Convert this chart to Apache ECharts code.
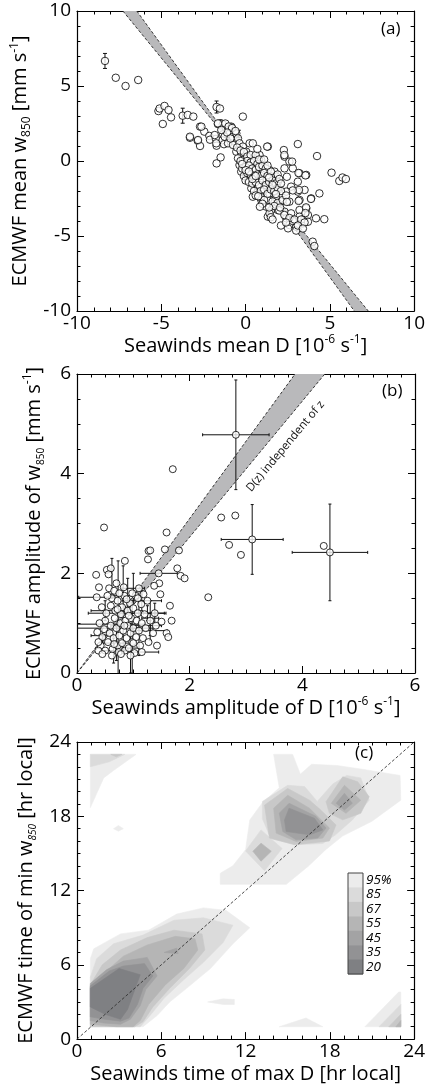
<!DOCTYPE html>
<html><head><meta charset="utf-8">
<script src="https://cdn.jsdelivr.net/npm/echarts@6/dist/echarts.min.js"></script>
<style>html,body{margin:0;padding:0;background:#fff}#c{width:428px;height:1087px}</style>
</head><body><div id="c"></div>
<script>
// ---------- Panel (a) ----------
const aRange = [-10, 10], aStep = 5;
const aPoints = [
[-8.34,6.67],[-7.7,5.55],[-7.12,5.0],[-6.37,5.4],
[-5.17,3.33],[-5.1,3.5],[-4.81,3.67],[-4.57,3.4],[-4.42,2.91],[-4.91,2.47],
[-3.73,3.02],[-3.43,3.07],[-3.1,2.96],
[-2.7,2.29],[-2.45,1.96],[-3.3,1.55],[-2.84,1.35],[-2.7,1.0],[-2.15,1.67],[-2.11,1.42],[-1.76,1.47],[-1.72,1.02],
[-1.72,3.6],[-1.52,3.5],[-1.48,0.24],[-1.72,-0.16],[-1.64,2.46],[-1.35,2.44],[-1.33,1.78],[-1.37,1.38],[-1.28,1.12],
[-0.16,2.96],
[-1.14,2.18],[-0.85,2.29],[-0.94,1.84],[-1.24,1.62],[-0.75,1.62],[-0.55,1.84],[-0.45,1.51],[-1.04,1.18],[-0.75,1.07],[-0.36,1.18],[-0.16,0.96],[0.24,1.18],[0.43,1.18],
[-0.55,0.62],[-0.26,0.51],[0.04,0.62],[-0.45,0.18],[-0.16,0.07],[0.14,0.18],[0.43,0.07],[0.83,0.4],[1.32,0.96],
[-0.36,-0.27],[-0.06,-0.38],[0.24,-0.16],[0.63,-0.27],[0.93,0.07],[1.13,-0.27],
[-0.26,-0.71],[0.04,-0.93],[0.34,-0.6],[0.63,-0.82],[1.03,-0.71],[1.42,-0.6],[1.72,-0.71],[1.82,-1.04],[1.52,-1.04],[1.22,-1.16],[0.83,-1.27],[0.43,-1.38],[0.14,-1.27],
[0.34,-1.82],[0.73,-1.71],[1.13,-1.71],[1.52,-1.6],[1.92,-1.38],
[2.27,0.73],[2.31,0.29],[2.31,-0.49],[2.6,-0.04],[2.8,-0.49],[3.2,-0.82],[3.6,-0.93],[3.1,-1.38],[2.7,-1.71],[2.41,-2.04],[1.92,-1.93],[1.42,-2.16],[1.03,-2.04],[0.63,-2.27],[0.43,-2.38],[0.93,-2.6],[1.32,-2.6],[1.82,-2.49],[2.11,-2.71],[2.6,-2.71],[3.2,-2.6],[3.1,-2.04],[3.5,-1.93],[3.89,-2.49],[4.38,-2.16],
[1.22,-3.04],[1.52,-3.27],[1.92,-3.27],[2.31,-3.38],[2.7,-3.49],[3.2,-3.27],[3.6,-3.16],[1.32,-3.71],[1.42,-3.49],[2.41,-3.82],[2.8,-3.93],[3.2,-3.71],[3.5,-3.82],[3.7,-3.6],[2.6,-4.27],[3.0,-4.38],[3.4,-4.16],[3.7,-4.05],[4.18,-3.82],[4.67,-3.88],[3.98,-5.38],[4.08,-5.67],
[3.1,1.13],[4.24,0.33],[5.1,-0.78],[5.56,-1.33],[5.75,-1.1],[5.95,-1.2],[2.52,-4.49],[3.0,-4.64],[2.8,-4.0],
[-1.2,2.5],[-1.0,2.3],[-0.8,2.2],[-0.6,2.0],[-1.1,1.9],[-0.9,1.5],[-0.5,0.9],[-0.3,0.7],[-0.1,0.6],[0.1,0.3],[0.3,0.4],[0.6,0.4],[-0.3,0.0],[0.1,0.0],[0.3,-0.1],[0.5,0.0],[0.7,-0.2],[-0.2,-0.5],[0,-0.4],[0.2,-0.3],[0.4,-0.5],[0.6,-0.6],[0.8,-0.4],[1.0,-0.3],[1.2,-0.5],[-0.1,-1.0],[0.1,-0.8],[0.3,-0.9],[0.5,-1.1],[0.7,-0.9],[0.9,-1.0],[1.1,-0.8],[1.3,-1.0],[1.5,-0.7],[1.9,-0.9],[0.0,-1.3],[0.2,-1.4],[0.4,-1.5],[0.6,-1.4],[0.8,-1.6],[1.0,-1.3],[1.2,-1.6],[1.4,-1.4],[1.6,-1.3],[1.8,-1.5],[2.0,-1.2],[0.5,-2.0],[0.9,-2.0],[1.1,-1.9],[1.3,-2.2],[1.5,-1.9],[1.7,-2.0],[1.9,-1.8],[2.1,-2.0],[0.9,-2.4],[1.1,-2.6],[1.6,-2.7],[1.9,-2.8],[2.2,-2.6],[2.4,-2.3],[1.7,-3.0],[2.0,-3.3],[2.3,-3.6],[2.6,-3.8],[2.9,-3.9],[3.3,-3.9],[3.5,-4.1],[2.1,-4.3],[2.4,-4.1],[3.1,-4.3],[3.4,-4.5],[0.0,-0.6],[0.2,-0.7],[-0.2,-0.2],[0.8,0.1],[1.3,-0.3],[1.1,0.1],[0.4,-1.2],[0.6,-1.0],[0.7,0.8],[0.6,-2.3],[1.4,-1.1],[1.6,-1.6],[1.8,-2.2],[2.1,-1.5],[1.5,-3.75],[1.6,-3.9],[1.0,-2.85],[0.85,-3.05],[0.75,-2.35],[1.4,-3.1],[2.05,-3.1],[-2.62,2.29],[-3.3,1.62],[-2.82,1.4],[-1.83,1.73],[-1.74,1.18],[-1.64,2.51],[-1.44,2.07],[2.45,-1.05],[2.76,-0.04],[1.28,0.96],[2.3,0.4],[3.55,-0.96],[3.14,-0.8],[3.17,-1.93],[2.8,-1.96],[3.88,-2.53],[3.15,-2.66],[2.45,-2.73],[3.59,-3.09],[3.55,-3.47]
];
const aErrors = [ // [x, y, yerr]
[-8.34,6.67,0.5],[-3.73,3.02,0.5],[-1.72,3.6,0.4],[-1.48,2.5,0.25],[-0.4,1.8,0.25],[0.3,-0.1,0.3],[1.5,-1.1,0.2],[1.6,-3.6,0.2]
];
const aSlopes = [-1.374, -1.55];

// ---------- Panel (b) ----------
const bRange = [0, 6], bStep = 2;
const bPoints = [
[2.82,4.78],[3.11,2.68],[4.49,2.42],[1.45,2.0],
[0.48,2.92],[1.70,4.09],[2.56,3.12],[2.81,3.16],[2.7,2.57],[2.91,2.37],[2.33,1.52],[4.38,2.55],[1.59,2.82],[1.56,2.48],[1.81,2.46],[1.27,2.45],[1.3,2.46],[1.26,2.28],[1.78,2.1],[1.84,1.95],[1.91,1.9],[1.46,1.8],[1.37,1.75],[1.48,1.58],[1.65,1.35],[1.68,1.05],[1.5,1.03],[1.59,0.8],[1.62,0.72],[0.85,2.25],[0.34,1.97],[0.39,1.72],[0.35,1.52],[0.53,2.07],[0.6,2.1],[0.56,1.98],
[0.42,0.55],[0.45,0.72],[0.48,0.88],[0.5,1.05],[0.52,1.2],[0.55,0.62],[0.58,0.8],[0.6,0.95],[0.6,1.35],[0.62,1.5],[0.63,0.48],[0.65,0.7],[0.67,1.1],[0.68,1.25],[0.7,0.9],[0.72,0.55],[0.72,1.45],[0.74,0.42],[0.75,0.75],[0.77,1.0],[0.78,1.18],[0.8,0.6],[0.8,1.32],[0.82,0.85],[0.84,1.55],[0.85,0.45],[0.86,1.05],[0.88,0.7],[0.9,1.25],[0.9,0.95],[0.92,0.5],[0.94,1.4],[0.95,0.8],[0.96,1.1],[0.98,0.62],[1.0,1.3],[1.0,0.9],[1.02,0.4],[1.04,1.55],[1.05,0.72],[1.06,1.05],[1.08,1.2],[1.1,0.85],[1.1,1.7],[1.12,0.55],[1.14,1.38],[1.15,1.0],[1.17,0.7],[1.2,1.18],[1.22,0.9],[1.25,1.45],[1.27,0.62],[1.3,1.05],[0.38,0.62],[0.36,0.82],[0.4,1.0],[0.44,1.32],[0.5,0.45],[0.54,1.55],[0.57,1.7],[0.66,1.65],[0.7,1.8],[0.75,1.6],[0.83,1.72],[0.88,1.48],[0.98,1.6],[1.08,1.5],[1.18,1.58],[1.35,0.8],[1.38,1.2],[1.4,0.95],[1.42,0.55],[0.62,0.35],[0.78,0.38],[0.95,0.35],[1.15,0.42],[0.38,0.45],[0.45,0.38],[1.0,0.6],[0.66,0.58],[0.84,0.95],[0.72,1.28],[0.92,1.15]
];
const bErrors = [ // [x, y, xerr, yerr]
[2.82,4.78,0.59,1.1],[3.11,2.68,0.55,0.7],[4.49,2.42,0.67,0.97],[1.45,2.0,0.33,0],
[0.35,1.52,0.32,0],[0.6,0.98,0.6,0],[0.55,0.9,0.55,0],[0.8,1.2,0.6,0],
[0.73,1.1,0,1.15],[0.98,0.7,0,0.72],[0.82,1.3,0,0.85],[1.1,0.9,0.25,0.55],[0.62,1.9,0,0.4],[1.3,1.1,0.15,0.35],[1.2,0.42,0.25,0],[1.05,0.95,0.45,0],[1.25,1.2,0.3,0.15],[1.3,0.85,0.3,0.2],[0.7,0.6,0.3,0.35],[0.9,1.55,0.25,0.35],[0.5,1.25,0.25,0.2],[1.0,1.7,0.2,0.3],[1.15,1.45,0.35,0.2],[0.65,0.45,0.2,0.25],[0.45,0.75,0.2,0.15],[0.95,0.5,0.15,0.5],[1.38,1.2,0.2,0.2]
];
const bSlopes = [1.55, 1.364];
const bNote = [[3.7, 4.55]];
const bNoteText = 'D(z) independent of z';

// ---------- Panel (c) ----------
const cRange = [0, 24], cStep = 6;
const cLevels = ['95%','85','67','55','45','35','20'];
const cColors = ['#ececec','#dbdbdb','#c8c8c8','#b5b5b5','#a3a3a4','#929294','#7f8083'];
const c95 = [
 [[0.95,1.0],[0.95,6.5],[1.2,7.3],[3.1,8.5],[5.1,8.8],[7.1,10.1],[9.0,10.6],[10.6,10.4],[12.3,9.0],[11.1,7.7],[9.5,5.7],[7.8,4.1],[6.6,3.0],[5.7,1.9],[4.7,1.0]],
 [[10.2,12.5],[10.2,13.4],[11.1,14.0],[12.0,15.3],[12.3,17.7],[13.2,19.1],[14.4,20.3],[14.0,23.0],[15.35,23.0],[15.9,21.4],[16.7,22.2],[18.5,22.1],[20.3,21.8],[23.0,21.3],[23.05,19.3],[21.0,17.6],[18.9,16.4],[17.7,15.3],[16.5,14.0],[14.9,12.5]],
 [[0.95,23.0],[0.95,18.7],[1.9,21.1],[2.6,21.7],[4.2,23.0]],
 [[2.6,17.0],[2.95,17.25],[3.3,17.0],[2.95,16.8]],
 [[9.3,3.0],[10.4,3.25],[11.2,3.2],[11.2,2.8],[10.4,2.8]],
 [[14.4,1.0],[16.3,1.7],[17.5,1.0]],
 [[20.5,1.0],[22.9,3.8],[23.05,3.8],[23.05,1.0]]
];
const c85 = [
 [[0.95,1.0],[0.95,5.0],[1.4,6.5],[2.6,7.7],[4.7,8.4],[6.9,9.6],[9.0,9.8],[11.1,9.2],[10.4,7.8],[9.0,6.2],[7.6,4.8],[6.2,3.3],[5.2,1.9],[4.5,1.0]],
 [[13.2,19.2],[15.0,20.5],[16.2,20.4],[17.1,19.2],[18.2,20.6],[19.2,21.3],[20.2,21.1],[20.8,19.3],[19.6,17.7],[18.4,16.5],[17.5,15.8],[15.6,15.7],[13.8,16.2],[13.2,17.8]],
 [[12.0,15.2],[13.1,16.9],[14.6,15.4],[13.35,13.6]],
 [[0.95,23.0],[0.95,22.0],[2.3,22.4],[3.4,23.0]],
 [[21.5,1.0],[23.05,2.8],[23.05,1.0]]
];
const c67 = [
 [[0.95,1.0],[0.95,4.4],[1.8,6.0],[3.1,7.2],[5.0,8.2],[6.9,8.8],[8.9,8.5],[9.1,7.2],[8.0,5.7],[6.6,4.1],[5.4,2.6],[4.7,1.4],[4.1,1.0]],
 [[13.35,18.9],[15.0,20.25],[16.55,19.3],[17.26,18.6],[18.44,17.3],[17.97,16.0],[15.5,15.7],[13.7,16.24]],
 [[17.73,19.18],[18.92,21.19],[19.98,20.79],[20.8,19.58],[20.2,18.24],[18.92,17.71],[17.97,18.24]],
 [[22.2,1.0],[23.05,2.0],[23.05,1.0]],
 [[2.4,23.0],[2.8,22.8],[3.2,23.0]]
];
const c55 = [
 [[0.95,1.2],[0.95,4.2],[1.9,5.3],[3.3,6.7],[5.0,7.6],[7.0,8.3],[8.4,8.1],[8.6,7.2],[7.6,5.7],[6.3,4.4],[5.1,2.8],[4.5,1.5],[4.0,1.0],[2.8,1.0]],
 [[14.0,18.65],[15.0,19.7],[16.55,18.65],[17.97,17.05],[17.5,16.24],[15.6,15.97],[14.18,16.64]],
 [[18.1,19.05],[19.04,20.5],[20.2,19.3],[19.15,18.24]],
 [[12.52,15.17],[13.1,15.83],[13.83,15.17],[13.1,14.37]],
 [[22.7,1.0],[23.05,1.5],[23.05,1.0]]
];
const c45 = [
 [[0.95,1.5],[0.95,4.5],[2.1,5.6],[3.3,6.3],[5.0,6.6],[5.7,5.1],[4.9,4.0],[4.5,2.7],[3.8,1.6],[3.1,1.2],[1.9,1.3]],
 [[6.2,7.0],[7.1,7.35],[7.2,6.9]],
 [[14.4,18.25],[15.1,19.05],[17.0,18.0],[17.73,17.05],[17.14,16.24],[15.6,16.1],[14.65,16.77]],
 [[18.45,19.05],[19.04,19.85],[19.6,19.05],[19.04,18.5]]
];
const c35 = [
 [[0.95,1.8],[0.95,4.3],[2.3,5.5],[3.3,5.9],[4.8,6.1],[5.4,5.1],[4.7,4.1],[4.3,2.8],[3.7,1.7],[3.1,1.45],[2.0,1.6]],
 [[14.77,17.7],[15.1,18.65],[16.9,17.84],[17.5,16.9],[16.55,16.5],[14.89,16.77]]
];
const c20 = [
 [[0.95,2.6],[0.95,4.1],[3.0,5.7],[4.5,5.2],[3.6,2.4],[3.1,1.6],[2.0,2.0]]
];
const cPolys = [c95, c85, c67, c55, c45, c35, c20];
const cDiag = [[0, 0], [24, 24]];

// ---------- build ----------
const FONT = '"Open Sans", sans-serif';
const chart = echarts.init(document.getElementById('c'), null, {renderer: 'canvas'});
const grids = [
  {left: 77, top: 11, width: 338, height: 300},
  {left: 77, top: 374, width: 338, height: 299},
  {left: 77, top: 742, width: 338, height: 299}
];
const nameRich = {
  sup: {fontSize: 12, lineHeight: 10, verticalAlign: 'top', fontFamily: FONT, color: '#000'},
  sub: {fontSize: 12, lineHeight: 10, verticalAlign: 'bottom', fontFamily: FONT, color: '#000'},
  subs: {fontSize: 10, lineHeight: 10, verticalAlign: 'bottom', fontFamily: FONT, color: '#000'},
  subi: {fontSize: 10, lineHeight: 10, verticalAlign: 'bottom', fontStyle: 'italic', fontFamily: FONT, color: '#000'}
};
function axis(gi, pos, range, step, minorN, name, showLabel) {
  const horiz = (pos === 'bottom' || pos === 'top');
  return {
    type: 'value', gridIndex: gi, position: pos, min: range[0], max: range[1], interval: step,
    name: showLabel ? name : '', nameLocation: 'middle', nameGap: horiz ? 22 : 31,
    nameRotate: horiz ? 0 : 90,
    nameTextStyle: {fontSize: 20, fontFamily: FONT, color: '#000', lineHeight: 24, rich: nameRich},
    axisLine: {show: true, onZero: false, lineStyle: {color: '#000', width: 1.2}},
    axisTick: {show: true, inside: true, length: 7, lineStyle: {color: '#000', width: 1}},
    minorTick: {show: true, splitNumber: minorN, length: 3.5, lineStyle: {color: '#000', width: 1}},
    splitLine: {show: false}, minorSplitLine: {show: false},
    axisLabel: {show: showLabel, fontSize: 19, fontFamily: FONT, color: '#000', margin: horiz ? 3 : 6}
  };
}
const xAxes = [
  axis(0, 'bottom', aRange, aStep, 5, 'Seawinds mean D [10{sup|-6} s{sup|-1}]', true),
  axis(0, 'top', aRange, aStep, 5, '', false),
  axis(1, 'bottom', bRange, bStep, 8, 'Seawinds amplitude of D [10{sup|-6} s{sup|-1}]', true),
  axis(1, 'top', bRange, bStep, 8, '', false),
  axis(2, 'bottom', cRange, cStep, 6, 'Seawinds time of max D [hr local]', true),
  axis(2, 'top', cRange, cStep, 6, '', false)
];
const yAxes = [
  axis(0, 'left', aRange, aStep, 5, 'ECMWF mean w{sub|850} [mm s{sup|-1}]', true),
  axis(0, 'right', aRange, aStep, 5, '', false),
  axis(1, 'left', bRange, bStep, 4, 'ECMWF amplitude of w{subs|850} [mm s{sup|-1}]', true),
  axis(1, 'right', bRange, bStep, 4, '', false),
  axis(2, 'left', cRange, cStep, 6, 'ECMWF time of min w{subi|850} [hr local]', true),
  axis(2, 'right', cRange, cStep, 6, '', false)
];

const series = [];
const BAND = '#b9b9bb';
function bandA() {
  const ys = [aRange[1], aRange[0]];
  return ys.map(y => [[0, 0], [y / aSlopes[0], y], [y / aSlopes[1], y]]);
}
const bandAPolys = bandA();
series.push({
  type: 'custom', xAxisIndex: 0, yAxisIndex: 0, clip: true, silent: true, z: 1,
  data: bandAPolys.map((p, i) => [i]),
  renderItem: (params, api) => ({type: 'polygon', shape: {points: bandAPolys[params.dataIndex].map(q => api.coord(q))}, style: {fill: BAND}})
});
aSlopes.forEach(s => series.push({
  type: 'line', xAxisIndex: 0, yAxisIndex: 0, showSymbol: false, silent: true, z: 2,
  data: [[aRange[1] / s, aRange[1]], [aRange[0] / s, aRange[0]]],
  lineStyle: {color: '#222', width: 0.9, type: [3, 2]}
}));
function errA(params, api) {
  const x = api.value(0), y = api.value(1), e = api.value(2);
  const p1 = api.coord([x, y - e]), p2 = api.coord([x, y + e]);
  const st = {stroke: '#111', lineWidth: 1};
  return {type: 'group', children: [
    {type: 'line', shape: {x1: p1[0], y1: p1[1], x2: p2[0], y2: p2[1]}, style: st},
    {type: 'line', shape: {x1: p1[0] - 2, y1: p1[1], x2: p1[0] + 2, y2: p1[1]}, style: st},
    {type: 'line', shape: {x1: p2[0] - 2, y1: p2[1], x2: p2[0] + 2, y2: p2[1]}, style: st}
  ]};
}
series.push({type: 'custom', xAxisIndex: 0, yAxisIndex: 0, clip: true, silent: true, z: 3, data: aErrors, renderItem: errA});
const dotStyle = {color: '#fff', borderColor: '#000', borderWidth: 1};
series.push({type: 'scatter', xAxisIndex: 0, yAxisIndex: 0, symbol: 'circle', symbolSize: 7.5, z: 4, silent: true, itemStyle: dotStyle, data: aPoints});

const bandBPoly = [[0, 0], [bRange[1] / bSlopes[0], bRange[1]], [bRange[1] / bSlopes[1], bRange[1]]];
series.push({
  type: 'custom', xAxisIndex: 2, yAxisIndex: 2, clip: true, silent: true, z: 1, data: [[0]],
  renderItem: (params, api) => ({type: 'polygon', shape: {points: bandBPoly.map(q => api.coord(q))}, style: {fill: BAND}})
});
bSlopes.forEach(s => series.push({
  type: 'line', xAxisIndex: 2, yAxisIndex: 2, showSymbol: false, silent: true, z: 2,
  data: [[0, 0], [bRange[1] / s, bRange[1]]],
  lineStyle: {color: '#222', width: 0.9, type: [3, 2]}
}));
function errB(params, api) {
  const x = api.value(0), y = api.value(1), xe = api.value(2), ye = api.value(3);
  const st = {stroke: '#111', lineWidth: 1};
  const ch = [];
  if (ye > 0) {
    const p1 = api.coord([x, y - ye]), p2 = api.coord([x, y + ye]);
    ch.push({type: 'line', shape: {x1: p1[0], y1: p1[1], x2: p2[0], y2: p2[1]}, style: st});
    ch.push({type: 'line', shape: {x1: p1[0] - 1.5, y1: p1[1], x2: p1[0] + 1.5, y2: p1[1]}, style: st});
    ch.push({type: 'line', shape: {x1: p2[0] - 1.5, y1: p2[1], x2: p2[0] + 1.5, y2: p2[1]}, style: st});
  }
  if (xe > 0) {
    const p1 = api.coord([x - xe, y]), p2 = api.coord([x + xe, y]);
    ch.push({type: 'line', shape: {x1: p1[0], y1: p1[1], x2: p2[0], y2: p2[1]}, style: st});
    ch.push({type: 'line', shape: {x1: p1[0], y1: p1[1] - 1.5, x2: p1[0], y2: p1[1] + 1.5}, style: st});
    ch.push({type: 'line', shape: {x1: p2[0], y1: p2[1] - 1.5, x2: p2[0], y2: p2[1] + 1.5}, style: st});
  }
  return {type: 'group', children: ch};
}
series.push({type: 'custom', xAxisIndex: 2, yAxisIndex: 2, clip: true, silent: true, z: 3, data: bErrors, renderItem: errB});
series.push({type: 'scatter', xAxisIndex: 2, yAxisIndex: 2, symbol: 'circle', symbolSize: 7, z: 4, silent: true, itemStyle: dotStyle, data: bPoints});
// rotated note beside the band
series.push({
  type: 'custom', xAxisIndex: 2, yAxisIndex: 2, clip: false, silent: true, z: 5, data: bNote,
  renderItem: (params, api) => {
    const p = api.coord([api.value(0), api.value(1)]);
    return {type: 'text', x: p[0], y: p[1], rotation: 50 * Math.PI / 180,
      style: {text: bNoteText, font: '11.5px ' + FONT, fill: '#111', align: 'center', verticalAlign: 'middle'}};
  }
});

cPolys.forEach((polys, li) => {
  series.push({
    type: 'custom', xAxisIndex: 4, yAxisIndex: 4, clip: true, silent: true, z: 1 + li * 0.01,
    data: polys.map((p, i) => [i]),
    renderItem: (params, api) => ({type: 'polygon', shape: {points: polys[params.dataIndex].map(q => api.coord(q))},
      style: {fill: cColors[li], stroke: cColors[li], lineWidth: 0.6}})
  });
});
series.push({type: 'line', xAxisIndex: 4, yAxisIndex: 4, showSymbol: false, silent: true, z: 3,
  data: cDiag, lineStyle: {color: '#333', width: 0.9, type: [3, 2]}});

const cb = {x: 348, y: 873, w: 15, h: 101};
const cbStep = cb.h / cLevels.length;
const graphic = [];
cLevels.forEach((lab, i) => {
  graphic.push({type: 'rect', shape: {x: cb.x, y: cb.y + i * cbStep, width: cb.w, height: cbStep + 0.5}, style: {fill: cColors[i]}, z: 10});
  graphic.push({type: 'text', x: cb.x + cb.w + 3, y: cb.y + (i + 0.5) * cbStep,
    style: {text: lab, font: 'italic 13.5px ' + FONT, fill: '#000', verticalAlign: 'middle', align: 'left'}, z: 10});
});
graphic.push({type: 'rect', shape: {x: cb.x, y: cb.y, width: cb.w, height: cb.h}, style: {fill: 'none', stroke: '#444', lineWidth: 1}, z: 11});

const titles = [
  {text: '(a)', left: 381, top: 21},
  {text: '(b)', left: 382, top: 383},
  {text: '(c)', left: 355, top: 745}
].map(t => Object.assign(t, {padding: 0, textStyle: {fontSize: 17, fontWeight: 'normal', fontFamily: FONT, color: '#000'}}));

chart.setOption({
  animation: false,
  backgroundColor: '#fff',
  title: titles,
  grid: grids,
  xAxis: xAxes,
  yAxis: yAxes,
  series: series,
  graphic: graphic
});
</script></body></html>
